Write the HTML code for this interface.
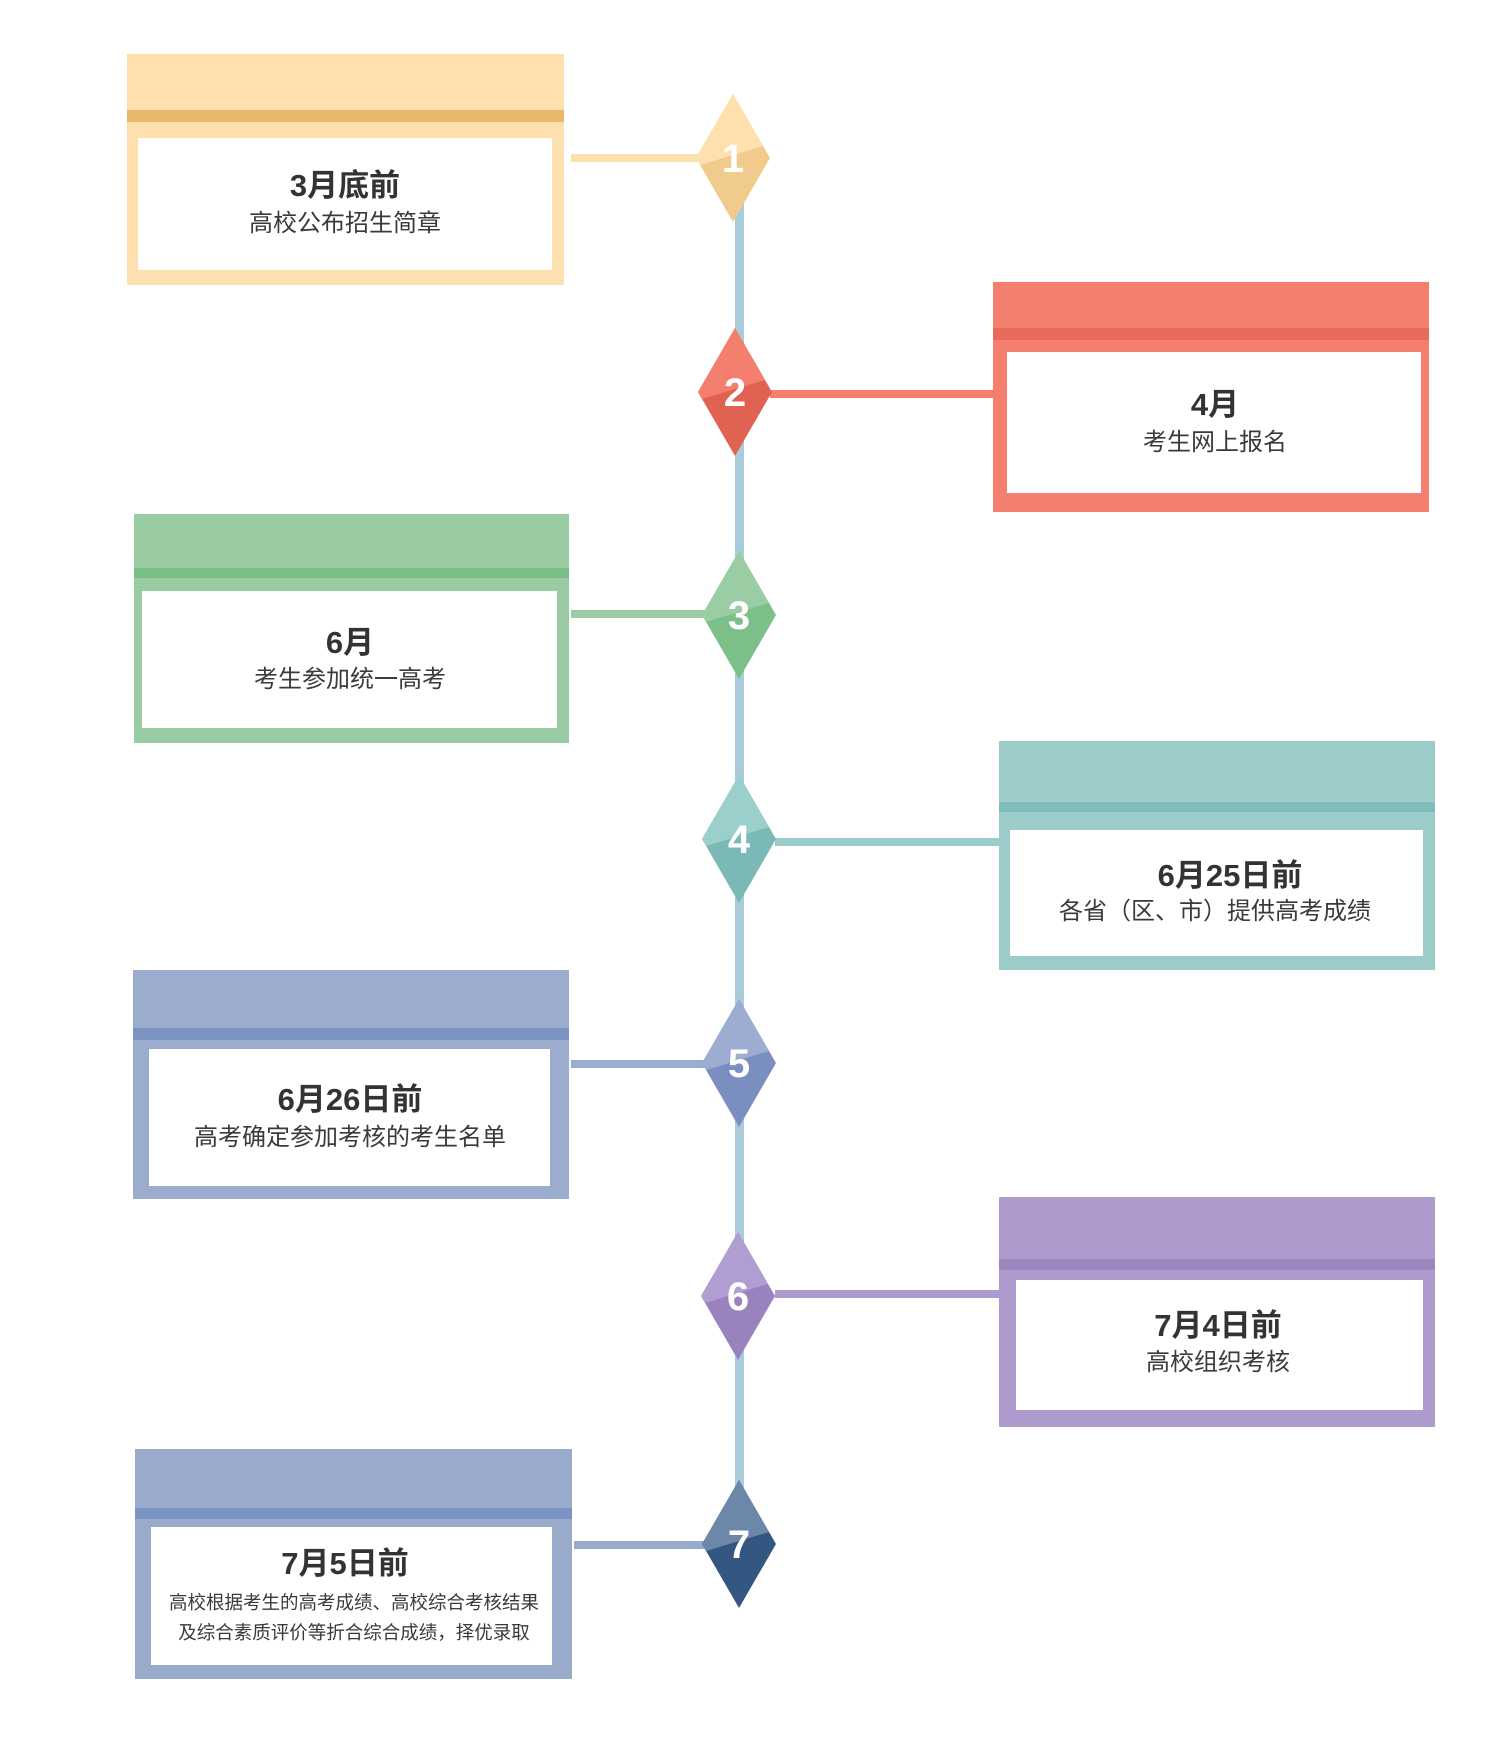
<!DOCTYPE html>
<html><head><meta charset="utf-8"><style>
html,body{margin:0;padding:0;background:#fff;}
svg{display:block}
text{font-family:"Liberation Sans","Noto Sans CJK SC",sans-serif;fill:#333;text-anchor:middle}
.t{font-weight:bold;font-size:31px}
.s{font-size:24px;fill:#3a3a3a}
.d{font-weight:bold;font-size:40px;fill:#fff}
</style></head><body>
<svg width="1500" height="1760" viewBox="0 0 1500 1760" xmlns="http://www.w3.org/2000/svg">
<rect x="735" y="158" width="9" height="1390" fill="#a9cbda"/>

<rect x="571" y="154" width="130" height="8" fill="#fde0ad"/>
<rect x="770" y="390" width="223" height="8" fill="#f47f6e"/>
<rect x="571" y="610" width="135" height="8" fill="#9acca3"/>
<rect x="775" y="838" width="224" height="8" fill="#9ccdcb"/>
<rect x="571" y="1060" width="135" height="8" fill="#9bacce"/>
<rect x="775" y="1290" width="224" height="8" fill="#ae9acc"/>
<rect x="574" y="1541" width="132" height="8" fill="#9aaacb"/>

<g>
<rect x="127" y="54" width="437" height="231" fill="#fde0ad"/><rect x="127" y="110" width="437" height="12" fill="#e8b96a"/><rect x="138" y="138" width="414" height="132" fill="#fff"/>
<text class="t" x="345" y="196">3月底前</text><text class="s" x="345" y="231">高校公布招生简章</text>
</g>
<g>
<rect x="993" y="282" width="436" height="230" fill="#f47f6e"/><rect x="993" y="328" width="436" height="12" fill="#e86a5b"/><rect x="1007" y="352" width="414" height="141" fill="#fff"/>
<text class="t" x="1215" y="415">4月</text><text class="s" x="1215" y="450">考生网上报名</text>
</g>
<g>
<rect x="134" y="514" width="435" height="229" fill="#9acca3"/><rect x="134" y="568" width="435" height="10" fill="#79bd87"/><rect x="142" y="591" width="415" height="137" fill="#fff"/>
<text class="t" x="350" y="653">6月</text><text class="s" x="350" y="687">考生参加统一高考</text>
</g>
<g>
<rect x="999" y="741" width="436" height="229" fill="#9ccdcb"/><rect x="999" y="802" width="436" height="10" fill="#7ebdb9"/><rect x="1010" y="830" width="413" height="126" fill="#fff"/>
<text class="t" x="1230" y="886">6月25日前</text><text class="s" x="1215" y="919">各省（区、市）提供高考成绩</text>
</g>
<g>
<rect x="133" y="970" width="436" height="229" fill="#9bacce"/><rect x="133" y="1028" width="436" height="12" fill="#7b93c1"/><rect x="149" y="1049" width="401" height="137" fill="#fff"/>
<text class="t" x="350" y="1110">6月26日前</text><text class="s" x="350" y="1145">高考确定参加考核的考生名单</text>
</g>
<g>
<rect x="999" y="1197" width="436" height="230" fill="#ae9acc"/><rect x="999" y="1259" width="436" height="11" fill="#9b86bf"/><rect x="1016" y="1280" width="407" height="130" fill="#fff"/>
<text class="t" x="1218" y="1336">7月4日前</text><text class="s" x="1218" y="1370">高校组织考核</text>
</g>
<g>
<rect x="135" y="1449" width="437" height="230" fill="#9aaacb"/><rect x="135" y="1508" width="437" height="11" fill="#7b93c1"/><rect x="151" y="1527" width="401" height="138" fill="#fff"/>
<text class="t" x="345" y="1574">7月5日前</text>
<text x="354" y="1609" style="font-size:18.5px;fill:#3a3a3a">高校根据考生的高考成绩、高校综合考核结果</text>
<text x="354" y="1639" style="font-size:18.5px;fill:#3a3a3a">及综合素质评价等折合综合成绩，择优录取</text>
</g>

<g transform="translate(733,158)"><polygon points="0,-64 37,0 0,64 -37,0" fill="#f0cb8b"/><polygon points="0,-64 30,-12 -33,7 -37,0" fill="#fde0ad"/><text class="d" x="0" y="14">1</text></g>
<g transform="translate(735,392)"><polygon points="0,-64 37,0 0,64 -37,0" fill="#e06252"/><polygon points="0,-64 30,-12 -33,7 -37,0" fill="#f47f6e"/><text class="d" x="0" y="14">2</text></g>
<g transform="translate(739,615)"><polygon points="0,-64 37,0 0,64 -37,0" fill="#7cbf89"/><polygon points="0,-64 30,-12 -33,7 -37,0" fill="#9acda3"/><text class="d" x="0" y="14">3</text></g>
<g transform="translate(739,839)"><polygon points="0,-64 37,0 0,64 -37,0" fill="#7bb9b6"/><polygon points="0,-64 30,-12 -33,7 -37,0" fill="#9bcfcb"/><text class="d" x="0" y="14">4</text></g>
<g transform="translate(739,1063)"><polygon points="0,-64 37,0 0,64 -37,0" fill="#7a8fc0"/><polygon points="0,-64 30,-12 -33,7 -37,0" fill="#9dadd2"/><text class="d" x="0" y="14">5</text></g>
<g transform="translate(738,1296)"><polygon points="0,-64 37,0 0,64 -37,0" fill="#9a82bf"/><polygon points="0,-64 30,-12 -33,7 -37,0" fill="#b09dd2"/><text class="d" x="0" y="14">6</text></g>
<g transform="translate(739,1544)"><polygon points="0,-64 37,0 0,64 -37,0" fill="#335781"/><polygon points="0,-64 30,-12 -33,7 -37,0" fill="#6d87a8"/><text class="d" x="0" y="14">7</text></g>
</svg>
</body></html>
